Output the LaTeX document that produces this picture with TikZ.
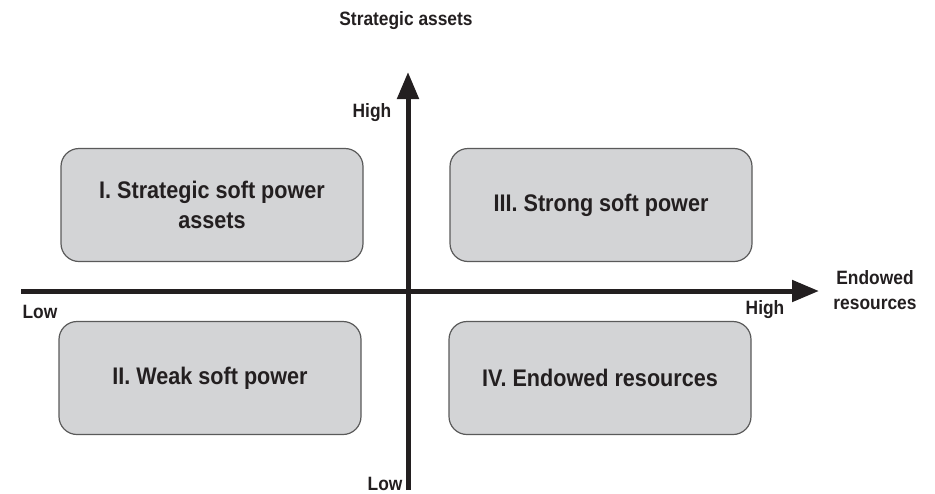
\documentclass[tikz,border=0pt]{standalone}
\usepackage{fontspec}
\setmainfont{Liberation Sans}[FakeStretch=0.9]
\usetikzlibrary{arrows.meta}
\definecolor{boxgray}{HTML}{D3D4D6}
\definecolor{boxedge}{HTML}{5A5A5A}
\definecolor{ink}{HTML}{231F20}
\begin{document}
\begin{tikzpicture}[x=1pt,y=-1pt,
  quad/.style={draw=boxedge, fill=boxgray, line width=1.2pt, rounded corners=18pt,
    minimum width=302pt, minimum height=113pt, inner sep=0pt, align=center,
    text=ink, font=\bfseries\fontsize{24}{30}\selectfont},
  axlabel/.style={inner sep=0pt, align=center, text=ink,
    font=\bfseries\fontsize{19.3}{24.5}\selectfont},
  axis/.style={line width=5pt, draw=ink, -{Triangle[length=27pt,width=21pt]}}]
\useasboundingbox (0,0) rectangle (935,493);
% axes
\coordinate (vb) at (408,490);
\coordinate (vt) at (408,72);
\coordinate (hl) at (21,291);
\coordinate (hr) at (819,291);
\draw[axis] (hl) -- (hr);
\draw[axis] (vb) -- (vt);
% quadrant boxes
\node[quad] (q1) at (212,205) {I. Strategic soft power\\assets};
\node[quad] (q3) at (601,205) {III. Strong soft power};
\node[quad] (q2) at (210,378) {II. Weak soft power};
\node[quad] (q4) at (600,378) {IV. Endowed resources};
% labels
\node[axlabel] (ytitle) at (406,21) {Strategic assets};
\node[axlabel] (yhigh) at (372,113) {High};
\node[axlabel] (ylow) at (385,484) {Low};
\node[axlabel] (xlow) at (40,312) {Low};
\node[axlabel] (xhigh) at (765,310) {High};
\node[axlabel] (xtitle) at (875,290) {Endowed\\resources};
\end{tikzpicture}
\end{document}
